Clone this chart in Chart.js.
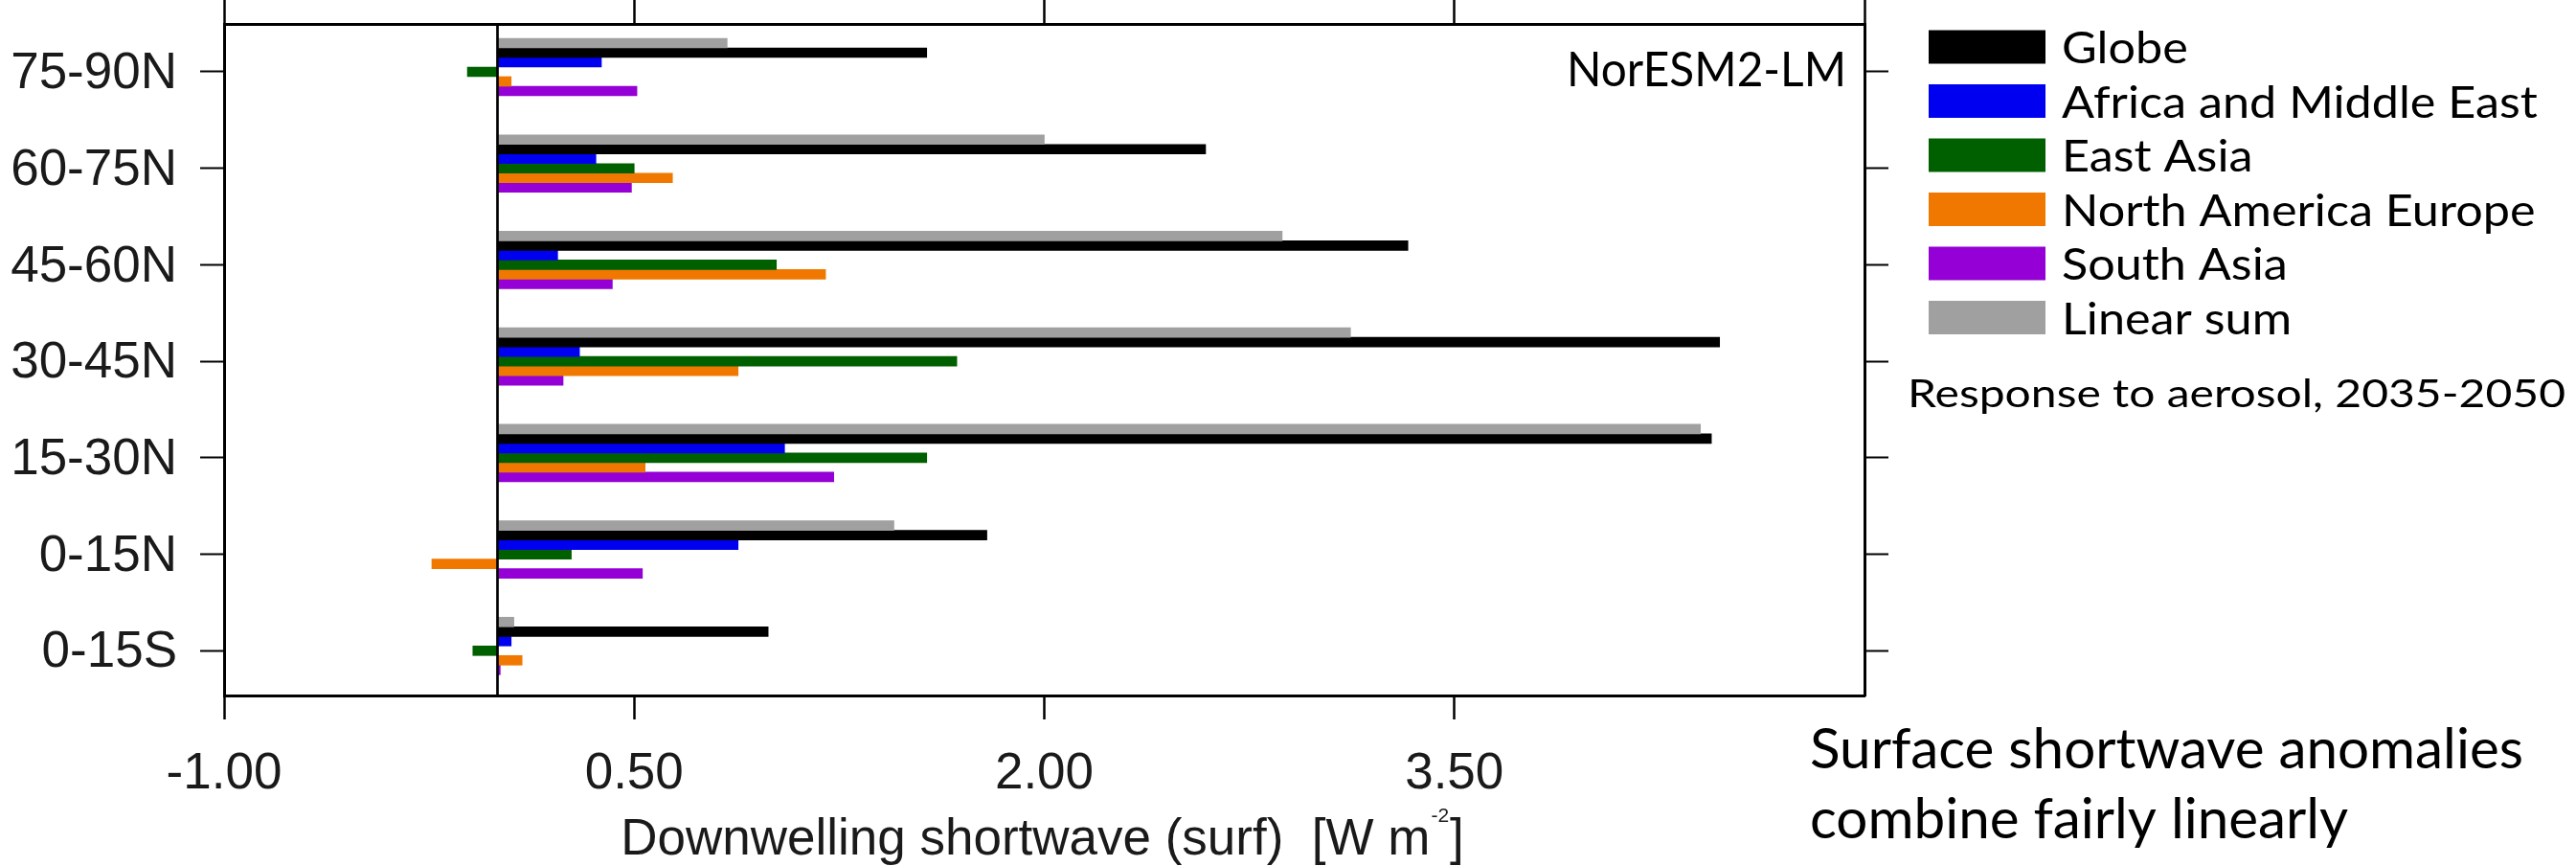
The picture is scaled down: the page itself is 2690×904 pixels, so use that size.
<!DOCTYPE html>
<html>
<head>
<meta charset="utf-8">
<script src="https://cdn.jsdelivr.net/npm/chart.js@4.4.1/dist/chart.umd.min.js"></script>
<style>
html,body{margin:0;padding:0;background:#fff;}
canvas{display:block;}
</style>
</head>
<body>
<canvas id="c" width="2690" height="904" style="width:2690px;height:904px"></canvas>
<script>
// ---- data ----
const categories = ['75-90N', '60-75N', '45-60N', '30-45N', '15-30N', '0-15N', '0-15S'];
const globe              = [1.57, 2.59, 3.33, 4.47, 4.44, 1.79, 0.99];
const africaMiddleEast   = [0.38, 0.36, 0.22, 0.30, 1.05, 0.88, 0.05];
const eastAsia           = [-0.11, 0.50, 1.02, 1.68, 1.57, 0.27, -0.09];
const northAmericaEurope = [0.05, 0.64, 1.20, 0.88, 0.54, -0.24, 0.09];
const southAsia          = [0.51, 0.49, 0.42, 0.24, 1.23, 0.53, 0.01];
const linearSum          = [0.84, 2.00, 2.87, 3.12, 4.40, 1.45, 0.06];
const xTickValues = [-1.0, 0.5, 2.0, 3.5];
const xTopTickValues = [-1.0, 0.5, 2.0, 3.5, 5.0];
const seriesNames = ['Globe', 'Africa and Middle East', 'East Asia', 'North America Europe', 'South Asia', 'Linear sum'];
const seriesColors = ['#000000', '#0000f0', '#006000', '#f07800', '#9400d6', '#a0a0a0'];

const X_MIN = -1, X_MAX = 5;
const Y_MIN = -0.4964, Y_MAX = 6.4637;

const toPoints = arr => arr.map((v, i) => ({x: v, y: i}));
// drawing order top->bottom inside each group: Linear sum, Globe, Africa, East Asia, NA/Europe, South Asia, (empty slot)
const order = [5, 0, 1, 2, 3, 4];
const seriesData = [globe, africaMiddleEast, eastAsia, northAmericaEurope, southAsia, linearSum];
const datasets = order.map(k => ({
  label: seriesNames[k],
  data: toPoints(seriesData[k]),
  backgroundColor: seriesColors[k],
  borderWidth: 0,
  barThickness: 10
}));
datasets.push({label: '', data: [], backgroundColor: 'rgba(0,0,0,0)', borderWidth: 0, barThickness: 10});

const GILL = 'Lato, "Open Sans", sans-serif';
const HELV = '"Liberation Sans", Arial, sans-serif';

function measure(ctx, text, font) { ctx.save(); ctx.font = font; const w = ctx.measureText(text).width; ctx.restore(); return w; }
function drawScaled(ctx, text, x, y, font, sx, align) {
  ctx.save();
  ctx.font = font;
  ctx.textBaseline = 'alphabetic';
  ctx.textAlign = 'left';
  const w = ctx.measureText(text).width * sx;
  const x0 = align === 'right' ? x - w : (align === 'center' ? x - w / 2 : x);
  ctx.translate(x0, y);
  ctx.scale(sx, 1);
  ctx.fillText(text, 0, 0);
  ctx.restore();
}

const decor = {
  id: 'decor',
  afterDatasetsDraw(chart) {
    const {ctx, chartArea, scales} = chart;
    const x0 = scales.x.getPixelForValue(0);
    ctx.save();
    ctx.strokeStyle = '#000';
    ctx.lineWidth = 2.7;
    ctx.beginPath();
    ctx.moveTo(x0, chartArea.top);
    ctx.lineTo(x0, chartArea.bottom);
    ctx.stroke();
    ctx.restore();
  },
  afterDraw(chart) {
    const {ctx, chartArea, scales} = chart;
    ctx.save();
    ctx.fillStyle = '#000';

    // model name inside plot
    const fName = '50px ' + GILL;
    drawScaled(ctx, 'NorESM2-LM', chartArea.right - 19, 89.5, fName, 292 / measure(ctx, 'NorESM2-LM', fName), 'right');

    // legend
    const fLeg = '47px ' + GILL;
    const sxLeg = 494.5 / measure(ctx, 'North America Europe', fLeg);
    seriesNames.forEach((name, i) => {
      const top = 31.5 + i * 56.5;
      ctx.fillStyle = seriesColors[i];
      ctx.fillRect(2014, top, 122, 35);
      ctx.fillStyle = '#000';
      drawScaled(ctx, name, 2153, top + 34.5, fLeg, sxLeg, 'left');
    });

    const fResp = '40px ' + GILL;
    const tResp = 'Response to aerosol, 2035-2050';
    drawScaled(ctx, tResp, 1992, 425, fResp, 687 / measure(ctx, tResp, fResp), 'left');

    const fSurf = '58px ' + GILL;
    const l1 = 'Surface shortwave anomalies', l2 = 'combine fairly linearly';
    const sxS = 745 / measure(ctx, l1, fSurf);
    drawScaled(ctx, l1, 1890, 802, fSurf, sxS, 'left');
    drawScaled(ctx, l2, 1890, 875, fSurf, sxS, 'left');

    // x axis title with superscript
    ctx.fillStyle = '#1a1a1a';
    const main = 'Downwelling shortwave (surf)  [W m';
    const fMain = '53px ' + HELV, fSup = '21px ' + HELV;
    const w1 = measure(ctx, main, fMain), w2 = measure(ctx, '-2', fSup), w3 = measure(ctx, ']', fMain);
    const total = w1 + w2 + 2 + w3;
    const cx = (scales.x.left + scales.x.right) / 2 - 2;
    const sx0 = cx - total / 2;
    ctx.textBaseline = 'alphabetic';
    ctx.textAlign = 'left';
    ctx.font = fMain; ctx.fillText(main, sx0, 891.5);
    ctx.font = fSup; ctx.fillText('-2', sx0 + w1 + 1, 858);
    ctx.font = fMain; ctx.fillText(']', sx0 + w1 + w2 + 2, 891.5);
    ctx.restore();
  }
};

const gridCommon = {display: true, drawOnChartArea: false, drawTicks: true, tickLength: 25, tickColor: '#000', offset: false};
const noPadH = s => { s.paddingLeft = 0; s.paddingRight = 0; };
const noPadV = s => { s.paddingTop = 0; s.paddingBottom = 0; };

function makeChart() {
  new Chart(document.getElementById('c'), {
    type: 'bar',
    data: {datasets},
    options: {
      indexAxis: 'y',
      responsive: false,
      devicePixelRatio: 1,
      animation: false,
      layout: {padding: 0},
      plugins: {legend: {display: false}, tooltip: {enabled: false}},
      scales: {
        x: {
          type: 'linear', position: 'bottom', min: X_MIN, max: X_MAX, offset: false,
          afterBuildTicks: s => { s.ticks = xTickValues.map(v => ({value: v})); },
          afterFit: s => { s.height = 178; noPadH(s); },
          ticks: {
            callback: v => Number(v).toFixed(2),
            font: {family: HELV, size: 53}, color: '#1a1a1a', padding: 26, maxRotation: 0, autoSkip: false
          },
          grid: {...gridCommon, tickWidth: 2.5},
          border: {display: true, width: 3, color: '#000'}
        },
        x2: {
          type: 'linear', position: 'top', min: X_MIN, max: X_MAX, axis: 'x', offset: false,
          afterBuildTicks: s => { s.ticks = xTopTickValues.map(v => ({value: v})); },
          afterFit: s => { s.height = 25; noPadH(s); },
          ticks: {display: false},
          grid: {...gridCommon, tickWidth: 2.5},
          border: {display: true, width: 3, color: '#000'}
        },
        y: {
          type: 'linear', position: 'left', min: Y_MIN, max: Y_MAX, reverse: true, offset: false,
          afterBuildTicks: s => { s.ticks = categories.map((c, i) => ({value: i})); },
          afterFit: s => { s.width = 234; noPadV(s); },
          ticks: {
            callback: v => categories[v],
            font: {family: HELV, size: 53}, color: '#1a1a1a', padding: 24, labelOffset: 2.5, autoSkip: false
          },
          grid: {...gridCommon, tickWidth: 2},
          border: {display: true, width: 3, color: '#000'}
        },
        y2: {
          type: 'linear', position: 'right', min: Y_MIN, max: Y_MAX, reverse: true, axis: 'y', offset: false,
          afterBuildTicks: s => { s.ticks = categories.map((c, i) => ({value: i})); },
          afterFit: s => { s.width = 743; noPadV(s); },
          ticks: {display: false},
          grid: {...gridCommon, tickWidth: 2},
          border: {display: true, width: 3, color: '#000'}
        }
      }
    },
    plugins: [decor]
  });
}

Promise.all([
  document.fonts.load('47px Lato'),
  document.fonts.load('53px "Liberation Sans"')
]).then(makeChart, makeChart);
</script>
</body>
</html>
